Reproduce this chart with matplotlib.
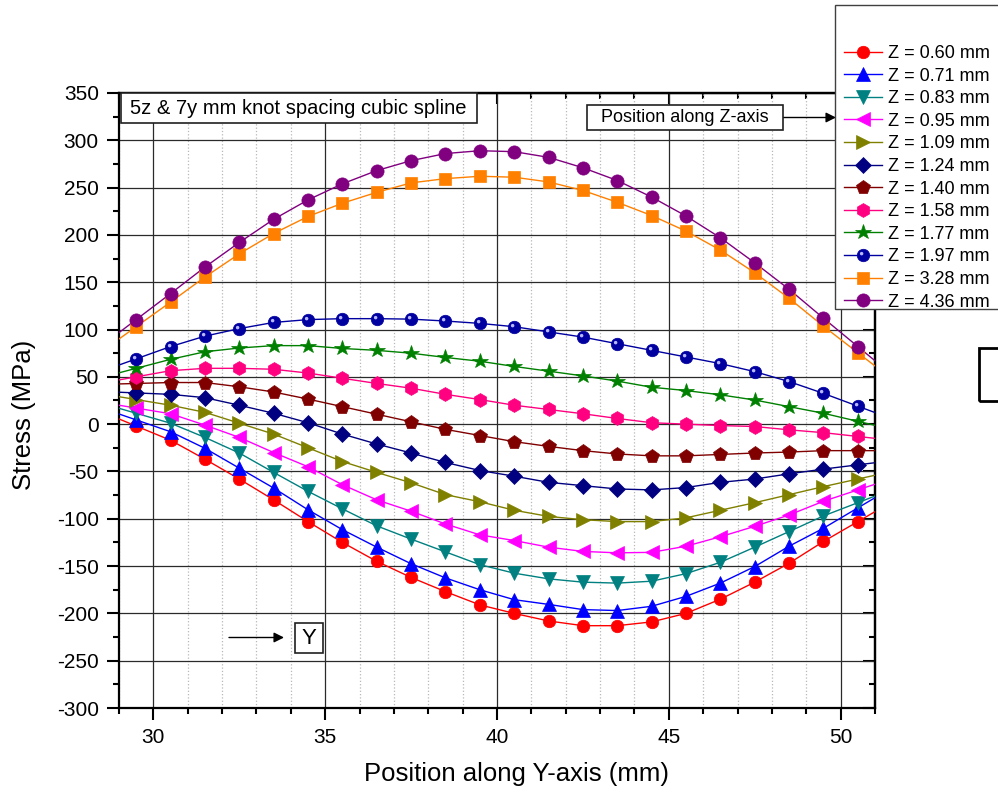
import matplotlib
matplotlib.use('Agg')
import matplotlib.pyplot as plt
import matplotlib.patches as patches
from matplotlib.lines import Line2D
from matplotlib.path import Path
from matplotlib.ticker import MultipleLocator
from matplotlib.legend_handler import HandlerTuple
import numpy as np

plt.rcParams['font.family'] = ['Liberation Sans', 'DejaVu Sans']
plt.rcParams['axes.unicode_minus'] = False

# position along Y-axis (mm)
ypos = [29.5, 30.5, 31.5, 32.5, 33.5, 34.5, 35.5, 36.5, 37.5, 38.5, 39.5,
        40.5, 41.5, 42.5, 43.5, 44.5, 45.5, 46.5, 47.5, 48.5, 49.5, 50.5]

# stress (MPa) for each Z position
z060 = [-2, -17, -37, -58, -80, -103, -125, -145, -162, -177, -191,
        -200, -208, -213, -213, -209, -200, -185, -167, -147, -124, -103]
z071 = [4.5, -8, -25.5, -46.5, -67.5, -90.5, -111.5, -130, -147.5, -162.5, -175,
        -185.5, -190.5, -196, -197, -192.5, -182, -168, -150.5, -129, -110, -88.5]
z083 = [11.5, 1, -14, -30.5, -51, -71, -89.5, -107.5, -121.5, -135, -148.5,
        -157.5, -163.5, -167, -168, -166, -158, -146, -130, -113.5, -97, -83]
z095 = [17, 11, -1, -14, -30, -45, -64, -80, -92, -105.5, -117,
        -123, -130, -134.5, -136, -135.5, -129, -119, -108, -96, -81.5, -69.5]
z109 = [26, 20, 12.5, 1, -10.5, -25, -39.5, -51, -62, -74.5, -82,
        -91, -97.5, -101, -103, -103, -99, -91, -83, -74.5, -66, -58]
z124 = [33, 31.5, 28, 20, 11.5, 1.5, -10.5, -21, -30.5, -40.5, -49,
        -55, -61.5, -65, -68.5, -69.5, -67, -61.5, -58, -52.5, -47.5, -43]
z140 = [43, 44, 44, 39.5, 34, 26.5, 18.5, 10.5, 2.5, -5.5, -12,
        -18.5, -23.5, -28, -31.5, -33.5, -33.5, -32, -30.5, -29.5, -28, -28]
z158 = [50, 56.5, 59, 59, 58, 54, 48.5, 43, 38, 31.5, 26,
        20, 15.5, 11, 6, 1.5, 0, -1.5, -2.5, -6, -9, -13]
z177 = [59, 68.5, 76.5, 80.5, 83, 83, 80, 78, 75, 70.5, 66.5,
        61, 56, 51, 45.5, 39, 35.5, 31, 25.5, 18.5, 11.5, 3]
z197 = [69, 82, 93, 101, 107.5, 110.5, 111.5, 111.5, 111, 109, 106.5,
        103, 97.5, 92, 85, 78, 71, 64, 55.5, 45, 32.5, 19]
z328 = [103, 129, 155.5, 180, 201.5, 219.5, 233.5, 245, 255, 259.5, 262,
        261, 256, 247, 234.5, 220.5, 204, 184, 160, 133, 103.5, 75.5]
z436 = [110.5, 138, 166, 192, 216.5, 237, 254, 268, 278.5, 286, 289,
        288, 282, 271, 257.5, 240, 220, 197, 170.5, 142.5, 112, 82]

labels = ['Z = 0.60 mm', 'Z = 0.71 mm', 'Z = 0.83 mm', 'Z = 0.95 mm',
          'Z = 1.09 mm', 'Z = 1.24 mm', 'Z = 1.40 mm', 'Z = 1.58 mm',
          'Z = 1.77 mm', 'Z = 1.97 mm', 'Z = 3.28 mm', 'Z = 4.36 mm']
series = [z060, z071, z083, z095, z109, z124, z140, z158, z177, z197, z328, z436]
colors = ['#ff0000', '#0000ff', '#008080', '#ff00ff', '#808000', '#000080',
          '#800000', '#ff0080', '#008000', '#0000a0', '#ff8000', '#800080']
markers = ['o', '^', 'v', '<', '>', 'D', 'p', 'h', '*', 'o', 's', 'o']
msizes = [9, 10, 10, 10, 10, 8, 10, 10, 11.5, 9, 8, 9.5]

# small highlight spot for the "ball" markers (extra moveto keeps the scale)
hl_path = Path.make_compound_path(Path([(1.0, 1.0)], [Path.MOVETO]),
                                  Path.circle((-0.3, 0.3), 0.28))

fig = plt.figure(figsize=(9.98, 7.96), dpi=100)
ax = fig.add_axes([119/998, 1-708/796, (875-119)/998, (708-93)/796])

xlo, xhi = 29, 51
handles = []
for y, c, m, ms, lab in zip(series, colors, markers, msizes, labels):
    y = np.asarray(y, dtype=float)
    x = np.asarray(ypos)
    # continue the curve to the frame edges like the spline does
    xl = np.r_[xlo, x, xhi]
    yl = np.r_[y[0] - (x[0]-xlo)*(y[1]-y[0])/(x[1]-x[0]), y,
               y[-1] + (xhi-x[-1])*(y[-1]-y[-2])/(x[-1]-x[-2])]
    ax.plot(xl, yl, '-', color=c, lw=1.0, zorder=3)
    ax.plot(x, y, ls='none', marker=m, ms=ms, color=c, mec=c, mew=0.5, zorder=4)
    proxy = Line2D([], [], color=c, lw=1.0, marker=m, ms=ms, mec=c, mew=0.5)
    if lab == 'Z = 1.97 mm':
        ax.plot(x, y, ls='none', marker=hl_path, ms=ms, color='#b8b8ff',
                mew=0, zorder=5)
        hl = Line2D([], [], ls='none', marker=hl_path, ms=ms, color='#b8b8ff', mew=0)
        handles.append((proxy, hl))
    else:
        handles.append(proxy)

ax.set_xlim(xlo, xhi)
ax.set_ylim(-300, 350)
ax.xaxis.set_major_locator(MultipleLocator(5))
ax.xaxis.set_minor_locator(MultipleLocator(1))
ax.yaxis.set_major_locator(MultipleLocator(50))
ax.yaxis.set_minor_locator(MultipleLocator(25))
ax.set_axisbelow(True)
ax.grid(which='major', color='#2a2a2a', lw=0.9)
ax.grid(which='minor', axis='x', color='#b8b8b8', lw=0.9, ls=':')
for s in ax.spines.values():
    s.set_linewidth(1.6)
ax.tick_params(which='major', direction='out', length=8.5, width=1.5,
               labelsize=15, pad=6)
ax.tick_params(which='minor', direction='out', length=4, width=1.5)

secx = ax.secondary_xaxis('top')
secx.xaxis.set_major_locator(MultipleLocator(5))
secx.xaxis.set_minor_locator(MultipleLocator(1))
secx.tick_params(which='major', direction='in', length=8, width=1.5, labeltop=False)
secx.tick_params(which='minor', direction='in', length=4, width=1.5)
secx.spines['top'].set_linewidth(1.6)
secy = ax.secondary_yaxis('right')
secy.yaxis.set_major_locator(MultipleLocator(50))
secy.yaxis.set_minor_locator(MultipleLocator(25))
secy.tick_params(which='major', direction='in', length=8.5, width=1.5, labelright=False)
secy.tick_params(which='minor', direction='in', length=4, width=1.5)
secy.spines['right'].set_linewidth(1.6)

ax.set_xlabel('Position along Y-axis (mm)', fontsize=18.5)
ax.xaxis.set_label_coords((517-119)/756, -(762-708)/615)
ax.set_ylabel('Stress (MPa)', fontsize=18.5)
ax.yaxis.set_label_coords(-(119-36)/756, (708-415)/615)

# legend frame sticking out past the right edge
frame = patches.Rectangle((835/998, 1-309/796), 0.2, (309-5)/796,
                          transform=fig.transFigure, fc='white', ec='#404040',
                          lw=1.0, zorder=2)
fig.patches.append(frame)
fig.legend(handles, labels, loc='upper left',
           bbox_to_anchor=(844/998, 1-45/796), bbox_transform=fig.transFigure,
           frameon=False, fontsize=13, handlelength=2.1, handletextpad=0.35,
           labelspacing=0.31, borderpad=0, borderaxespad=0,
           handler_map={tuple: HandlerTuple(ndivide=1)})


def boxed(x0, y0, x1, y1, lw=1.2):
    # rectangle given in figure pixels from the top-left corner
    fig.patches.append(patches.Rectangle((x0/998, 1-y1/796), (x1-x0)/998,
                                         (y1-y0)/796, transform=fig.transFigure,
                                         fc='white', ec='#202020', lw=lw, zorder=6))


boxed(120.7, 93.3, 476.7, 122.7)
fig.text(298.7/998, 1-108.5/796, '5z & 7y mm knot spacing cubic spline',
         fontsize=14.5, ha='center', va='center', zorder=7)
boxed(587, 105, 783, 130)
fig.text(685/998, 1-118/796, 'Position along Z-axis', fontsize=13,
         ha='center', va='center', zorder=7)
ax.annotate('', xy=(836/998, 1-117.5/796), xytext=(783/998, 1-117.5/796),
            xycoords='figure fraction', textcoords='figure fraction',
            arrowprops=dict(arrowstyle='-|>', color='black', lw=1.0,
                            mutation_scale=15, shrinkA=0, shrinkB=0))
boxed(295, 622.7, 323.3, 653.3)
fig.text(309.2/998, 1-638.5/796, 'Y', fontsize=16, ha='center', va='center',
         zorder=7)
ax.annotate('', xy=(284/998, 1-637.5/796), xytext=(229/998, 1-637.5/796),
            xycoords='figure fraction', textcoords='figure fraction',
            arrowprops=dict(arrowstyle='-|>', color='black', lw=1.0,
                            mutation_scale=15, shrinkA=0, shrinkB=0))

# empty box at the right edge
fig.patches.append(patches.Rectangle((979/998, 1-401/796), 0.05, 53/796,
                                     transform=fig.transFigure, fill=False,
                                     ec='black', lw=2.0, zorder=2))

fig.savefig('out.png', dpi=100)
